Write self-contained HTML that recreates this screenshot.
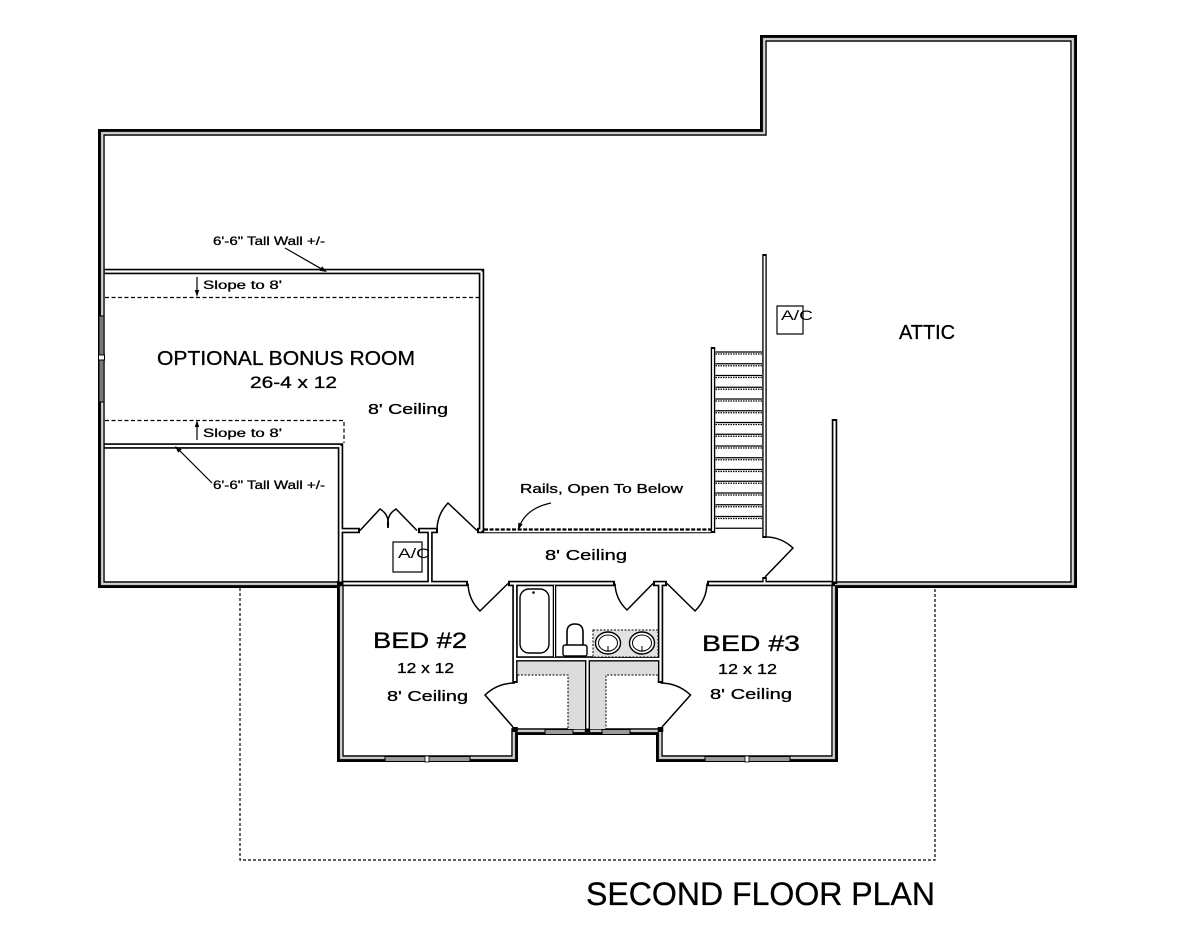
<!DOCTYPE html>
<html><head><meta charset="utf-8"><style>
html,body{margin:0;padding:0;background:#fff;}
svg{display:block;}
text{font-family:"Liberation Sans",sans-serif;fill:#000;}
</style></head><body>
<svg width="1200" height="927" viewBox="0 0 1200 927" xmlns="http://www.w3.org/2000/svg">
<rect width="1200" height="927" fill="#fff"/>

<!-- first floor footprint dotted -->
<path d="M240,588 V860 H935 V588" fill="none" stroke="#000" stroke-width="1.2" stroke-dasharray="3 2"/>

<!-- slope dashed lines -->
<path d="M105,297.5 H481" fill="none" stroke="#000" stroke-width="1.2" stroke-dasharray="4 2.5"/>
<path d="M105,420.5 H344 V443" fill="none" stroke="#000" stroke-width="1.2" stroke-dasharray="4 2.5"/>

<!-- exterior walls -->
<path d="M99.5,130.5 L761.5,130.5 L761.5,36.5 L1075.5,36.5 L1075.5,586.5 L836.5,586.5 L836.5,760.5 L657.5,760.5 L657.5,733.5 L516.5,733.5 L516.5,760.5 L338.5,760.5 L338.5,586.5 L99.5,586.5 Z" fill="none" stroke="#000" stroke-width="3"/>
<path d="M101.8,132.8 L763.8,132.8 L763.8,38.8 L1073.2,38.8 L1073.2,584.2 L834.2,584.2 L834.2,758.2 L659.8,758.2 L659.8,731.2 L514.2,731.2 L514.2,758.2 L340.8,758.2 L340.8,584.2 L101.8,584.2 Z" fill="none" stroke="#c4c4c4" stroke-width="1.8"/>
<path d="M104,135 L766,135 L766,41 L1071,41 L1071,582 L832,582 L832,756 L662,756 L662,729 L512,729 L512,756 L343,756 L343,582 L104,582 Z" fill="none" stroke="#000" stroke-width="1.4"/>

<!-- interior walls (black) -->
<g fill="none" stroke="#000">
<path stroke-width="5.5" d="M104,271.5 H484.2 M481.5,268.7 V533 M104,446 H343 M340.5,443.2 V586 M340,530.5 H360 M418,530.5 H438 M477,530.5 H484.2 M430,530.5 V584 M337,583.5 H468 M508,583.5 H615 M653,583.5 H667 M707,583.5 H835 M834.5,419 V584 M515,581 V683 M515,727 V732 M660.5,581 V683 M660.5,727 V732 M515,659 H660.5 M587.5,659 V732"/>
<path stroke-width="4.5" d="M764.5,254 V538 M764.5,577 V584 M713,347 V533"/>
<path stroke-width="3.5" d="M554.5,585 V659"/>
</g>
<!-- interior walls (white cores) -->
<g fill="none" stroke="#fff">
<path stroke-width="2.2" d="M104.8,271.5 H481.5 M481.5,271.5 V530.5 M104.8,446 H340.5 M340.5,446 V581.5 M340.5,530.5 H358 M420,530.5 H436 M479,530.5 H481.5 M430,530.5 V583.5 M343.5,583.5 H466 M510,583.5 H613 M655,583.5 H665 M709,583.5 H831.5 M834.5,421 V581.5 M515,583.5 V681 M660.5,583.5 V681 M515,659 H660.5 M587.5,659 V728.5"/>
<path stroke-width="1.8" d="M764.5,256 V536 M764.5,579 V583.5 M713,349 V531"/>
<path stroke-width="1" d="M554.5,585 V657"/>
</g>

<!-- windows -->
<rect x="99" y="316" width="5" height="86" fill="#777" stroke="#000" stroke-width="1"/>
<rect x="98.5" y="355" width="6" height="5" fill="#fff" stroke="#000" stroke-width="1"/>
<rect x="385" y="756.5" width="85" height="5" fill="#9a9a9a" stroke="#000" stroke-width="1"/>
<rect x="425" y="756" width="4" height="6" fill="#fff" stroke="#000" stroke-width="0.8"/>
<rect x="705" y="756.5" width="85" height="5" fill="#9a9a9a" stroke="#000" stroke-width="1"/>
<rect x="745" y="756" width="4" height="6" fill="#fff" stroke="#000" stroke-width="0.8"/>
<rect x="545" y="729.5" width="28" height="5" fill="#9a9a9a" stroke="#000" stroke-width="1"/>
<rect x="602" y="729.5" width="28" height="5" fill="#9a9a9a" stroke="#000" stroke-width="1"/>

<!-- rail -->
<path d="M484,529.5 H711" fill="none" stroke="#000" stroke-width="2.2" stroke-dasharray="4 1.6"/>
<path d="M484,532.8 H711" fill="none" stroke="#000" stroke-width="1"/>

<!-- stair treads -->
<g stroke="#000" fill="none">
<path stroke-width="1.3" d="M715.5,352 H762 M715.5,363.75 H762 M715.5,375.5 H762 M715.5,387.25 H762 M715.5,399 H762 M715.5,410.75 H762 M715.5,422.5 H762 M715.5,434.25 H762 M715.5,446 H762 M715.5,457.75 H762 M715.5,469.5 H762 M715.5,481.25 H762 M715.5,493 H762 M715.5,504.75 H762 M715.5,516.5 H762 M715.5,528.25 H762"/>
<path stroke-width="1.2" stroke-dasharray="1.5 1" d="M715.5,354 H762 M715.5,365.75 H762 M715.5,377.5 H762 M715.5,389.25 H762 M715.5,401 H762 M715.5,412.75 H762 M715.5,424.5 H762 M715.5,436.25 H762 M715.5,448 H762 M715.5,459.75 H762 M715.5,471.5 H762 M715.5,483.25 H762 M715.5,495 H762 M715.5,506.75 H762 M715.5,518.5 H762"/>
</g>

<!-- doors -->
<g fill="none" stroke="#000" stroke-width="1.5">
<path d="M437,530.5 A40,40 0 0 1 448,503 L477,530.5"/>
<path d="M360,530.5 L380,509 Q390,515 388,528"/>
<path d="M417,530.5 L396,509 Q386,515 388,528"/>
<path d="M468,583.5 A40,40 0 0 0 480,611 L508,583.5"/>
<path d="M615,583.5 A38,38 0 0 0 627,610 L653,583.5"/>
<path d="M667,583.5 L695,611 A40,40 0 0 0 707,583.5"/>
<path d="M764.5,537 A40,40 0 0 1 793,548 L765,577"/>
<path d="M515,683 A44,44 0 0 0 485,695 L513,727"/>
<path d="M660.5,683 A44,44 0 0 1 690.5,695 L662,727"/>
</g>

<!-- bath fixtures -->
<rect x="520" y="589" width="29" height="64" rx="9" fill="none" stroke="#000" stroke-width="1.4"/>
<circle cx="533.5" cy="592.5" r="1.3" fill="#000"/>
<rect x="563" y="645" width="24" height="11" rx="2" fill="#fff" stroke="#000" stroke-width="1.4"/>
<path d="M567,645 V632 Q567,624 575,624 Q583,624 583,632 V645" fill="none" stroke="#000" stroke-width="1.6"/>
<rect x="593" y="630" width="65" height="27" fill="#e2e2e2" stroke="#000" stroke-width="1" stroke-dasharray="2 1.5"/>
<ellipse cx="608" cy="643" rx="12.5" ry="11" fill="#fff" stroke="#000" stroke-width="1.4"/>
<ellipse cx="608" cy="643" rx="9.5" ry="8" fill="none" stroke="#000" stroke-width="1"/>
<ellipse cx="642" cy="643" rx="12.5" ry="11" fill="#fff" stroke="#000" stroke-width="1.4"/>
<ellipse cx="642" cy="643" rx="9.5" ry="8" fill="none" stroke="#000" stroke-width="1"/>
<path d="M608,646 V652 M605,651 H611 M642,646 V652 M639,651 H645" stroke="#000" stroke-width="1"/>

<!-- closet shelves -->
<path d="M517.5,661.5 H585 V729 H568 V675 H517.5 Z" fill="#dcdcdc"/>
<path d="M517.5,675 H568 V729" fill="none" stroke="#000" stroke-width="1" stroke-dasharray="2 1.5"/>
<path d="M590,661.5 H658 V675 H606 V729 H590 Z" fill="#dcdcdc"/>
<path d="M658,675 H606 V729" fill="none" stroke="#000" stroke-width="1" stroke-dasharray="2 1.5"/>

<!-- A/C units -->
<rect x="393" y="542" width="29" height="30" fill="none" stroke="#000" stroke-width="1.2"/>
<text x="398" y="558" font-size="14" textLength="32" lengthAdjust="spacingAndGlyphs">A/C</text>
<rect x="777" y="306" width="26" height="28" fill="none" stroke="#000" stroke-width="1.2"/>
<text x="781" y="320" font-size="14" textLength="32" lengthAdjust="spacingAndGlyphs">A/C</text>

<!-- leaders and arrows -->
<g stroke="#000" stroke-width="1.2" fill="none">
<path d="M285,248 L323,269.8"/>
<path d="M212,483 L179,450"/>
<path d="M197,277 V291"/>
<path d="M197,440 V426"/>
<path d="M551,503 Q527,508 519.5,526"/>
</g>
<g fill="#000">
<polygon points="327,272 319.7,270.7 322.1,266.3"/>
<polygon points="175,446 181.7,449.2 178.2,452.7"/>
<polygon points="197,297 194.8,290 199.2,290"/>
<polygon points="197,420 194.8,427 199.2,427"/>
<polygon points="518,530.5 522.6,524.2 518.3,522.6"/>
</g>

<!-- labels -->
<g stroke="#000" stroke-width="0.3">
<text x="213" y="245" font-size="12" textLength="112" lengthAdjust="spacingAndGlyphs">6'-6" Tall Wall +/-</text>
<text x="213" y="489" font-size="12" textLength="112" lengthAdjust="spacingAndGlyphs">6'-6" Tall Wall +/-</text>
<text x="203" y="289" font-size="12" textLength="79" lengthAdjust="spacingAndGlyphs">Slope to 8'</text>
<text x="203" y="437" font-size="12" textLength="79" lengthAdjust="spacingAndGlyphs">Slope to 8'</text>
<text x="157" y="365" font-size="20" textLength="258" lengthAdjust="spacingAndGlyphs">OPTIONAL BONUS ROOM</text>
<text x="250" y="388" font-size="17" textLength="87" lengthAdjust="spacingAndGlyphs">26-4 x 12</text>
<text x="368" y="414" font-size="15" textLength="80" lengthAdjust="spacingAndGlyphs">8' Ceiling</text>
<text x="899" y="339" font-size="20" textLength="56" lengthAdjust="spacingAndGlyphs">ATTIC</text>
<text x="520" y="493" font-size="13" textLength="163" lengthAdjust="spacingAndGlyphs">Rails, Open To Below</text>
<text x="545" y="560" font-size="15" textLength="82" lengthAdjust="spacingAndGlyphs">8' Ceiling</text>
<text x="373" y="648" font-size="22" textLength="94" lengthAdjust="spacingAndGlyphs">BED #2</text>
<text x="397" y="673" font-size="15" textLength="57" lengthAdjust="spacingAndGlyphs">12 x 12</text>
<text x="387" y="701" font-size="15" textLength="81" lengthAdjust="spacingAndGlyphs">8' Ceiling</text>
<text x="702" y="651" font-size="22" textLength="98" lengthAdjust="spacingAndGlyphs">BED #3</text>
<text x="718" y="674" font-size="15" textLength="59" lengthAdjust="spacingAndGlyphs">12 x 12</text>
<text x="710" y="699" font-size="15" textLength="82" lengthAdjust="spacingAndGlyphs">8' Ceiling</text>
</g>
<text x="586" y="905" font-size="32" textLength="349" lengthAdjust="spacingAndGlyphs" stroke="#000" stroke-width="0.3">SECOND FLOOR PLAN</text>
</svg>
</body></html>
